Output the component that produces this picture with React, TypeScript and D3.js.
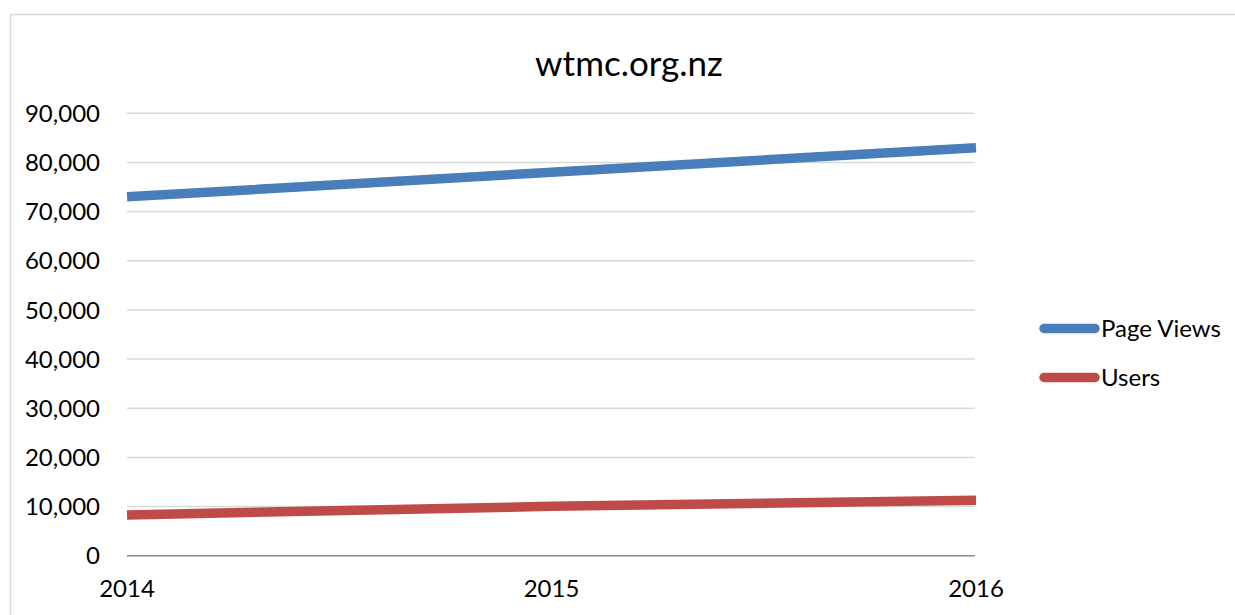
import React, { useEffect, useRef } from 'react';
import * as d3 from 'd3';

const years = ['2014', '2015', '2016'];
const pageViews = [73000, 78000, 83000];
const users = [8300, 10050, 11300];
const yTicks = [0, 10000, 20000, 30000, 40000, 50000, 60000, 70000, 80000, 90000];
const seriesNames = ['Page Views', 'Users'];
const seriesColors = ['#4a7ebb', '#be4b48'];

const WIDTH = 1235;
const HEIGHT = 615;
const FONT = 'Lato, "Open Sans", sans-serif';

export default function App() {
    const ref = useRef<SVGSVGElement>(null);

    useEffect(() => {
        const svg = d3.select(ref.current);
        svg.selectAll('*').remove();

        // chart frame
        svg.append('rect')
            .attr('x', 10.5)
            .attr('y', 14.5)
            .attr('width', WIDTH)
            .attr('height', HEIGHT)
            .attr('fill', '#fff')
            .attr('stroke', '#d9d9d9')
            .attr('stroke-width', 1.5);

        const xScale = d3.scalePoint<string>()
            .domain(years)
            .range([127, 976]);

        const yScale = d3.scaleLinear()
            .domain([0, 90000])
            .range([555.7, 113.3]);

        // grid lines
        svg.append('g')
            .selectAll('line')
            .data(yTicks.filter(d => d > 0))
            .enter()
            .append('line')
            .attr('x1', 127)
            .attr('x2', 975)
            .attr('y1', d => yScale(d))
            .attr('y2', d => yScale(d))
            .attr('stroke', '#d9d9d9')
            .attr('stroke-width', 1.5);

        // x axis line
        svg.append('line')
            .attr('x1', 127)
            .attr('x2', 975)
            .attr('y1', yScale(0))
            .attr('y2', yScale(0))
            .attr('stroke', '#8c8c8c')
            .attr('stroke-width', 1.5);

        // y tick labels
        svg.append('g')
            .selectAll('text')
            .data(yTicks)
            .enter()
            .append('text')
            .attr('x', 100)
            .attr('y', d => yScale(d))
            .attr('dy', '0.36em')
            .attr('text-anchor', 'end')
            .attr('font-family', FONT)
            .attr('font-size', 24)
            .attr('fill', '#000')
            .text(d => d3.format(',')(d));

        // x tick labels
        svg.append('g')
            .selectAll('text')
            .data(years)
            .enter()
            .append('text')
            .attr('x', d => xScale(d) as number)
            .attr('y', 597)
            .attr('text-anchor', 'middle')
            .attr('font-family', FONT)
            .attr('font-size', 24)
            .attr('fill', '#000')
            .text(d => d);

        // lines
        const line = d3.line<number>()
            .x((d, i) => xScale(years[i]) as number)
            .y(d => yScale(d));

        [pageViews, users].forEach((values, i) => {
            svg.append('path')
                .datum(values)
                .attr('d', line)
                .attr('fill', 'none')
                .attr('stroke', seriesColors[i])
                .attr('stroke-width', 9.5)
                .attr('stroke-linecap', 'butt')
                .attr('stroke-linejoin', 'round');
        });

        // title
        svg.append('text')
            .attr('x', 629)
            .attr('y', 76)
            .attr('text-anchor', 'middle')
            .attr('font-family', FONT)
            .attr('font-size', 35)
            .attr('fill', '#000')
            .text('wtmc.org.nz');

        // legend
        const legend = svg.append('g')
            .selectAll('g')
            .data(seriesNames)
            .enter()
            .append('g')
            .attr('transform', (d, i) => `translate(0, ${328.5 + i * 49})`);

        legend.append('line')
            .attr('x1', 1044)
            .attr('x2', 1095)
            .attr('stroke', (d, i) => seriesColors[i])
            .attr('stroke-width', 9.5)
            .attr('stroke-linecap', 'round');

        legend.append('text')
            .attr('x', 1101)
            .attr('dy', '0.36em')
            .attr('font-family', FONT)
            .attr('font-size', 24)
            .attr('fill', '#000')
            .text(d => d);
    }, []);

    return (
        <svg
            ref={ref}
            width={WIDTH}
            height={HEIGHT}
            style={{ position: 'absolute', left: 0, top: 0, background: '#fff' }}
        />
    );
}
